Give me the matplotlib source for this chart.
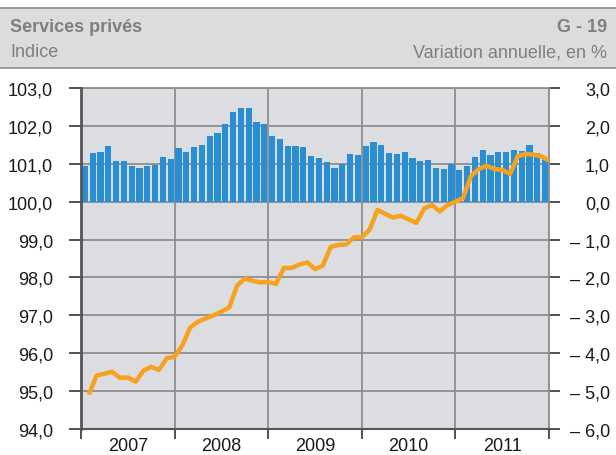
import matplotlib
matplotlib.use("Agg")
import matplotlib.pyplot as plt
from matplotlib.patches import Rectangle
from matplotlib.lines import Line2D

plt.rcParams['font.family'] = ['Liberation Sans', 'DejaVu Sans']

# monthly data, Jan 2007 - Dec 2011
years = ["2007", "2008", "2009", "2010", "2011"]

# annual variation, in % (bars, right axis)
variation = [0.94, 1.29, 1.32, 1.48, 1.08, 1.08, 0.94, 0.89, 0.94, 0.97, 1.18, 1.13,
             1.42, 1.32, 1.45, 1.50, 1.74, 1.80, 2.04, 2.36, 2.46, 2.46, 2.09, 2.06,
             1.72, 1.66, 1.48, 1.48, 1.45, 1.21, 1.16, 1.05, 0.89, 1.00, 1.26, 1.24,
             1.48, 1.58, 1.50, 1.29, 1.26, 1.32, 1.16, 1.08, 1.10, 0.89, 0.86, 1.00,
             0.84, 0.94, 1.18, 1.37, 1.24, 1.32, 1.32, 1.37, 1.34, 1.50, 1.29, 1.13]

# index (line, left axis)
index = [94.91, 95.41, 95.46, 95.51, 95.35, 95.36, 95.25, 95.54, 95.64, 95.56, 95.87, 95.91,
         96.21, 96.68, 96.83, 96.92, 97.00, 97.10, 97.21, 97.78, 97.97, 97.91, 97.87, 97.88,
         97.83, 98.25, 98.25, 98.34, 98.40, 98.22, 98.31, 98.80, 98.86, 98.87, 99.06, 99.06,
         99.26, 99.78, 99.68, 99.58, 99.63, 99.53, 99.44, 99.82, 99.91, 99.74, 99.91, 100.00,
         100.10, 100.68, 100.86, 100.95, 100.86, 100.84, 100.73, 101.20, 101.26, 101.24, 101.20, 101.08]

left_ticks = list(range(94, 104))
right_ticks = list(range(-6, 4))


def fmt(v):
    s = f"{abs(v):.1f}".replace(".", ",")
    return ("\u2013 " + s) if v < 0 else s


n = len(variation)
x_bar = [i + 0.5 for i in range(n)]
x_line = [i + 1 for i in range(n)]

W, H = 616, 456
fig = plt.figure(figsize=(W / 100, H / 100), dpi=100)

# header band
fig.add_artist(Rectangle((0, 1 - 69 / H), 1, 61 / H, transform=fig.transFigure,
                         facecolor="#dcdcdd", edgecolor="none"))
for yy in (8.5, 69):
    fig.add_artist(Line2D([0, 1], [1 - yy / H] * 2, transform=fig.transFigure,
                          color="#8e8e8e", lw=1.2))
hc = "#7f7f7f"
fig.text(10.5 / W, 1 - 32 / H, "Services privés", size=13, weight="bold", color=hc, va="baseline")
fig.text(10.5 / W, 1 - 57 / H, "Indice", size=13, color=hc, va="baseline")
fig.text(607 / W, 1 - 32 / H, "G - 19", size=13, weight="bold", color=hc, va="baseline", ha="right")
fig.text(607 / W, 1 - 57 / H, "Variation annuelle, en %", size=13, color=hc, va="baseline", ha="right")

# plot area: bars on the base axes (right scale), line on the twin (left scale)
ax = fig.add_axes([81 / W, 26 / H, 468 / W, 341 / H])
ax2 = ax.twinx()

ax.set_facecolor("#dcdde0")
ax.bar(x_bar, variation, width=0.78, color="#2a8fd2", zorder=2)
ax.set_xlim(0, n)
ax.set_ylim(-6, 3)
ax.set_yticks(right_ticks)
ax.set_yticklabels([fmt(v) for v in right_ticks])
ax.yaxis.tick_right()
ax.tick_params(axis="y", direction="out", length=8, width=1.2, color="#333333",
               labelsize=13, labelcolor="#1a1a1a", pad=36)
for lab in ax.get_yticklabels():
    lab.set_horizontalalignment("right")

ax.set_xticks(range(0, n + 1, 12))
ax.set_xticklabels([])
ax.set_xticks([6 + 12 * k for k in range(len(years))], minor=True)
ax.set_xticklabels(years, minor=True)
ax.tick_params(axis="x", which="major", direction="out", length=7.5, width=1.2, color="#333333")
ax.tick_params(axis="x", which="minor", length=0, labelsize=13, labelcolor="#1a1a1a", pad=6)

ax.grid(True, which="major", color="#8e8e8e", lw=1.3)
ax.set_axisbelow(True)
ax.spines["left"].set_visible(False)
ax.spines["bottom"].set_color("#555555")
ax.spines["bottom"].set_linewidth(1.5)
for s in ("top", "right"):
    ax.spines[s].set_color("#8e8e8e")
    ax.spines[s].set_linewidth(1.3)

ax2.plot(x_line, index, color="#f7a11f", lw=3.2, solid_capstyle="butt")
ax2.set_ylim(94, 103)
ax2.set_yticks(left_ticks)
ax2.set_yticklabels([fmt(v) for v in left_ticks])
ax2.yaxis.tick_left()
ax2.tick_params(axis="y", direction="out", length=9, width=1.2, color="#333333",
                labelsize=13, labelcolor="#1a1a1a", pad=11)
for s in ("top", "right", "bottom"):
    ax2.spines[s].set_visible(False)
ax2.spines["left"].set_color("#555555")
ax2.spines["left"].set_linewidth(2)

fig.savefig("out.png", dpi=100)
